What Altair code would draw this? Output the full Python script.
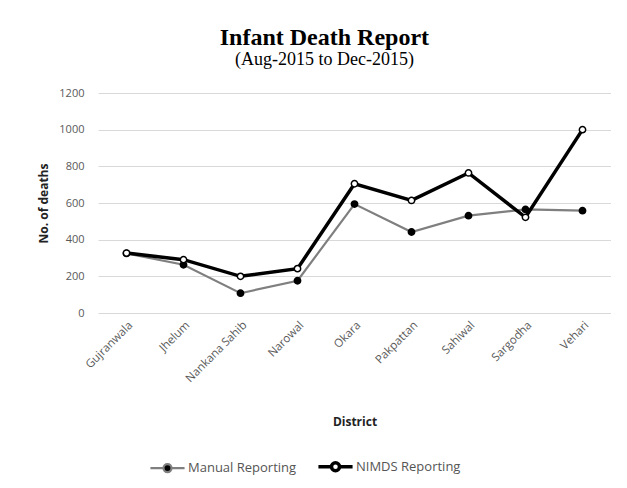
import altair as alt
import pandas as pd

districts = ["Gujranwala", "Jhelum", "Nankana Sahib", "Narowal", "Okara",
             "Pakpattan", "Sahiwal", "Sargodha", "Vehari"]
manual = [325, 263, 108, 176, 594, 442, 531, 565, 558]
nimds = [327, 291, 200, 242, 705, 614, 764, 522, 1000]
series = ["Manual Reporting", "NIMDS Reporting"]

rows = []
for d, m, n in zip(districts, manual, nimds):
    rows.append({"District": d, "Series": series[0], "Deaths": m})
    rows.append({"District": d, "Series": series[1], "Deaths": n})
df = pd.DataFrame(rows)

x = alt.X("District:N", sort=districts, title="District",
          scale=alt.Scale(paddingOuter=0.5, paddingInner=0),
          axis=alt.Axis(labelAngle=-45, labelAlign="right", labelBaseline="top",
                        labelFontSize=11.5, labelColor="#595959", labelFont="Open Sans",
                        titleFont="Open Sans", titleFontSize=12, titleFontWeight="bold",
                        titleColor="#222222", titlePadding=32, ticks=False,
                        domain=False, grid=False, labelPadding=6))
y = alt.Y("Deaths:Q", title="No. of deaths",
          scale=alt.Scale(domain=[0, 1200]),
          axis=alt.Axis(values=[0, 200, 400, 600, 800, 1000, 1200], format="d", ticks=False,
                        domain=False, gridColor="#d9d9d9", gridWidth=1.2,
                        labelFontSize=11, labelColor="#595959", labelFont="Open Sans",
                        labelPadding=14, titleFont="Open Sans", titleFontSize=12,
                        titleFontWeight="bold", titleColor="#222222", titlePadding=8))

legend_symbol = ("M-5.4,0L-1.27,0M1.27,0L5.4,0"
                 "M1.27,0A1.27,1.27,0,1,1,-1.27,0A1.27,1.27,0,1,1,1.27,0Z")

legend = alt.Legend(title=None, orient="none", direction="horizontal",
                    legendX=63, legendY=367,
                    symbolType=legend_symbol, symbolSize=40,
                    labelFont="Open Sans", labelFontSize=13, labelOffset=14,
                    labelColor="#555555", columnPadding=14)

lines = alt.Chart(df).mark_line().encode(
    x=x, y=y,
    color=alt.Color("Series:N", scale=alt.Scale(domain=series, range=["#7f7f7f", "#000000"]),
                    legend=legend),
    strokeWidth=alt.StrokeWidth("Series:N", scale=alt.Scale(domain=series, range=[2.2, 3.5]),
                                legend=legend),
)

points = alt.Chart(df).mark_point(filled=True, opacity=1, size=40, stroke="black", strokeWidth=1.5).encode(
    x=x, y=y,
    fill=alt.Fill("Series:N", scale=alt.Scale(domain=series, range=["#000000", "#ffffff"]), legend=legend),
)

chart = alt.layer(lines, points).properties(
    width=513, height=220, background="white",
    title=alt.TitleParams("Infant Death Report", subtitle="(Aug-2015 to Dec-2015)",
                          font="Liberation Serif", fontSize=24, fontWeight="bold", color="#000000",
                          subtitleFont="Liberation Serif", subtitleFontSize=18,
                          subtitleColor="#000000", subtitlePadding=1,
                          anchor="middle", frame="bounds", offset=18),
    padding={"left": 29, "top": 18, "right": 0, "bottom": 5},
).configure_view(stroke=None)

chart.save("out.html", embed_options={"renderer": "svg", "actions": False})
